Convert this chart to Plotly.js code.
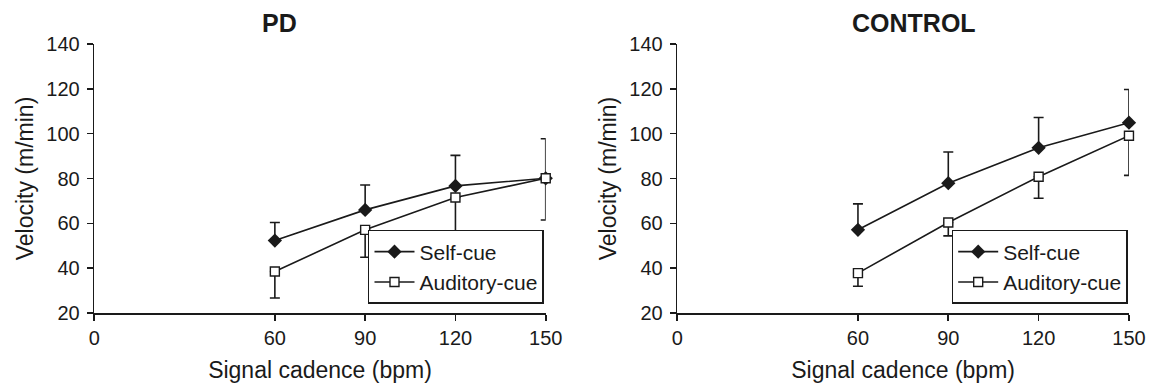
<!DOCTYPE html>
<html>
<head>
<meta charset="utf-8">
<script src="https://cdn.plot.ly/plotly-3.0.1.min.js"></script>
<style>html,body{margin:0;padding:0;background:#fff;}#chart{width:1154px;height:388px;}</style>
</head>
<body>
<div id="chart"></div>
<script>
// Data
var cadence = [60, 90, 120, 150];
var xTicks = [0, 60, 90, 120, 150];
var yTicks = [20, 40, 60, 80, 100, 120, 140];

var pdSelf = [52.3, 66.0, 76.7, 80.1];
var pdSelfErrUp = [8.1, 11.1, 13.6, 17.6];
var pdAud = [38.5, 57.1, 71.5, 80.1];
var pdAudErrDown = [11.8, 12.2, 14.9, 18.6];

var ctlSelf = [57.1, 77.9, 93.7, 104.9];
var ctlSelfErrUp = [11.6, 13.9, 13.5, 14.8];
var ctlAud = [37.8, 60.4, 80.8, 99.1];
var ctlAudErrDown = [5.9, 6.0, 9.6, 17.7];

var zeros = [0, 0, 0, 0];
var seriesNames = ['Self-cue', 'Auditory-cue'];
var panelTitles = ['PD', 'CONTROL'];
var xTitle = 'Signal cadence (bpm)';
var yTitle = 'Velocity (m/min)';

var FONT = 'Arial, "Liberation Sans", sans-serif';
var INK = '#1a1a1a';

function selfTrace(y, err, xa, ya, lg) {
  return {
    x: cadence, y: y, type: 'scatter', mode: 'lines+markers', name: seriesNames[0],
    xaxis: xa, yaxis: ya, legend: lg, cliponaxis: false,
    line: {color: INK, width: 1.6},
    marker: {symbol: 'diamond', size: 11, color: INK, line: {width: 0}},
    error_y: {type: 'data', symmetric: false, array: err, arrayminus: zeros,
              color: INK, thickness: 1.6, width: 5}
  };
}
function audTrace(y, err, xa, ya, lg) {
  return {
    x: cadence, y: y, type: 'scatter', mode: 'lines+markers', name: seriesNames[1],
    xaxis: xa, yaxis: ya, legend: lg, cliponaxis: false,
    line: {color: INK, width: 1.6},
    marker: {symbol: 'square', size: 9, color: '#ffffff', line: {color: INK, width: 1.4}},
    error_y: {type: 'data', symmetric: false, array: zeros, arrayminus: err,
              color: INK, thickness: 1.6, width: 5}
  };
}

var data = [
  selfTrace(pdSelf, pdSelfErrUp, 'x', 'y', 'legend'),
  audTrace(pdAud, pdAudErrDown, 'x', 'y', 'legend'),
  selfTrace(ctlSelf, ctlSelfErrUp, 'x2', 'y2', 'legend2'),
  audTrace(ctlAud, ctlAudErrDown, 'x2', 'y2', 'legend2')
];

function xAxis(domain, anchor) {
  return {
    domain: domain, anchor: anchor, range: [0, 150], tickmode: 'array', tickvals: xTicks,
    showgrid: false, zeroline: false, showline: true, linecolor: INK, linewidth: 1.6,
    ticks: 'outside', ticklen: 6, tickwidth: 1.6, tickcolor: INK,
    tickfont: {family: FONT, size: 20, color: INK},
    title: {text: xTitle, font: {family: FONT, size: 23, color: INK}, standoff: 14},
    automargin: false, fixedrange: true
  };
}
function yAxis(anchor) {
  return {
    domain: [0, 1], anchor: anchor, range: [20, 140], tickmode: 'array', tickvals: yTicks,
    showgrid: false, zeroline: false, showline: true, linecolor: INK, linewidth: 1.6,
    ticks: 'outside', ticklen: 6, tickwidth: 1.6, tickcolor: INK,
    tickfont: {family: FONT, size: 20, color: INK}, ticklabelstandoff: 3,
    title: {text: yTitle, font: {family: FONT, size: 23, color: INK}, standoff: 6},
    automargin: false, fixedrange: true
  };
}

function legendBox(xRight) {
  return {
    x: xRight, xanchor: 'right', y: 0.0335, yanchor: 'bottom',
    bgcolor: '#ffffff', bordercolor: INK, borderwidth: 1.5,
    font: {family: FONT, size: 21, color: INK}, itemwidth: 40,
    tracegroupgap: 0
  };
}

var layout = {
  width: 1154, height: 388,
  margin: {l: 0, r: 0, t: 44, b: 75, pad: 0},
  paper_bgcolor: '#ffffff', plot_bgcolor: '#ffffff',
  showlegend: true,
  font: {family: FONT, color: INK},
  xaxis: xAxis([0.0817, 0.4729], 'y'),
  yaxis: yAxis('x'),
  xaxis2: xAxis([0.5869, 0.9783], 'y2'),
  yaxis2: yAxis('x2'),
  legend: legendBox(0.4714),
  legend2: legendBox(0.9772),
  annotations: [
    {text: '<b>' + panelTitles[0] + '</b>', xref: 'paper', yref: 'paper', x: 0.2426, y: 1.078,
     xanchor: 'center', yanchor: 'middle', showarrow: false,
     font: {family: FONT, size: 25, color: INK}},
    {text: '<b>' + panelTitles[1] + '</b>', xref: 'paper', yref: 'paper', x: 0.7916, y: 1.078,
     xanchor: 'center', yanchor: 'middle', showarrow: false,
     font: {family: FONT, size: 25, color: INK}}
  ]
};

Plotly.newPlot('chart', data, layout, {displayModeBar: false, staticPlot: true});
</script>
</body>
</html>
